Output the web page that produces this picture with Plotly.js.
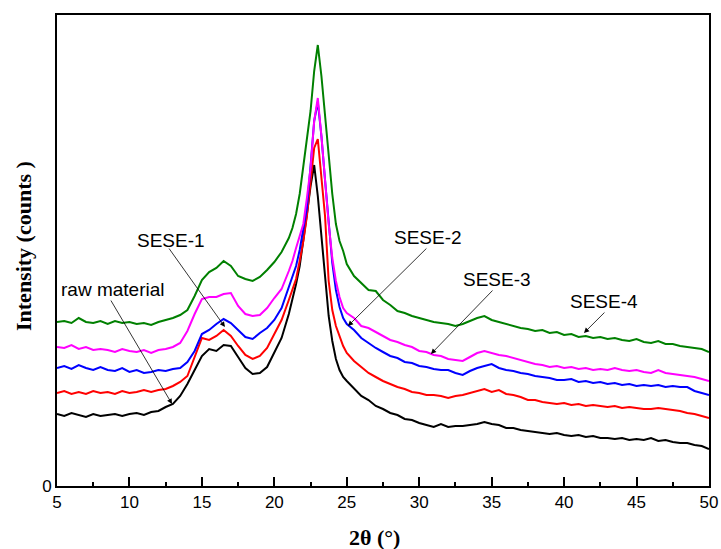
<!DOCTYPE html>
<html>
<head>
<meta charset="utf-8">
<script src="https://cdn.plot.ly/plotly-3.0.1.min.js"></script>
<style>html,body{margin:0;padding:0;background:#fff;}#chart{width:721px;height:549px;}</style>
</head>
<body>
<div id="chart"></div>
<script>
// 2θ (degrees)
const twoTheta = [5,5.5,6,6.5,7,7.5,8,8.5,9,9.5,10,10.5,11,11.5,12,12.5,13,13.5,14,14.5,15,15.5,16,16.5,17,17.5,18,18.5,19,19.5,20,20.5,21,
  21.25,21.5,21.75,22,22.25,22.5,22.75,23,23.25,23.5,23.75,24,24.25,24.5,24.75,25,
  25.5,26,26.5,27,27.5,28,28.5,29,29.5,30,30.5,31,31.5,32,32.5,33,33.5,34,34.5,35,35.5,36,36.5,37,37.5,38,38.5,39,39.5,40,40.5,41,41.5,42,42.5,43,43.5,44,44.5,45,45.5,46,46.5,47,47.5,48,48.5,49,49.5,50];

// Intensities (arbitrary counts, offset curves as plotted)
const rawMaterial = [72,70,73,71,69,72,70,71,72,70,72,73,71,74,75,79,82,90,102,116,130,137,135,141,140,129,118,112,113,119,133,148,172,
  186,202,220,244,272,300,321,290,250,205,170,145,127,116,109,105,
  97,90,86,80,77,73,71,67,66,63,61,59,62,59,60,60,61,62,64,62,61,58,58,56,55,54,53,52,53,51,50,51,49,50,48,48,47,48,46,47,46,48,45,46,44,43,43,41,40,37];

const sese1 = [93,95,92,94,92,95,93,94,92,95,93,94,96,94,96,97,100,104,110,130,148,146,150,156,150,140,131,127,130,138,152,166,186,
  197,207,225,245,270,305,338,347,310,270,205,176,160,149,140,133,
  125,119,113,109,105,102,99,97,94,93,91,91,90,88,90,91,93,95,97,94,96,92,91,89,86,86,84,83,82,83,81,82,80,81,80,79,80,78,79,78,77,77,78,77,76,75,73,72,70,68];

const sese2 = [118,120,117,121,118,116,119,116,115,118,114,116,113,114,116,115,117,118,124,135,152,156,162,167,163,156,149,147,153,158,166,178,198,
  208,220,236,255,278,320,365,384,350,306,262,223,196,179,168,162,
  156,148,143,138,134,130,128,124,123,120,119,117,116,116,113,111,115,118,120,122,118,116,115,113,112,110,109,108,106,106,107,104,105,103,104,102,103,101,102,100,101,100,101,99,100,99,99,95,93,91];

const sese3 = [139,138,141,137,139,136,137,136,134,137,135,134,136,133,136,137,139,143,155,172,187,189,189,192,193,180,172,170,171,178,188,197,215,
  225,238,250,262,288,318,365,388,350,305,262,228,205,189,178,173,
  168,160,158,154,150,146,144,141,139,135,134,131,130,127,126,125,129,133,135,133,131,130,128,126,124,122,121,119,120,118,119,117,118,116,117,116,118,116,115,116,114,113,116,113,112,111,110,109,107,105];

const sese4 = [164,165,163,168,164,163,165,162,165,163,164,162,163,161,164,166,168,171,176,190,206,214,218,225,220,210,207,205,209,216,224,234,248,
  258,272,292,318,345,375,415,441,410,370,325,292,262,245,235,222,
  210,203,196,195,186,181,175,173,170,168,166,164,163,162,160,162,165,168,170,166,164,162,160,158,157,155,156,153,154,151,152,149,150,148,149,147,148,146,145,147,144,143,145,142,142,140,139,138,137,134];

const seriesNames = ['raw material','SESE-1','SESE-2','SESE-3','SESE-4'];
const seriesData = [rawMaterial, sese1, sese2, sese3, sese4];
const seriesColors = ['#000000','#ff0000','#0000ff','#ff00ff','#008000'];

// Label annotations
const labelText = ['raw material','SESE-1','SESE-2','SESE-3','SESE-4'];
const labelPos = [[8.8,197],[12.9,246],[30.6,249],[35.35,207],[42.75,185]];
const arrowTail = [[8.66,187],[12.66,239],[30.6,239],[35.16,197],[42.89,175]];
const arrowHead = [[12.94,82],[16.59,159],[25.08,160],[30.81,132],[41.37,153]];

const traces = seriesData.map((ys, i) => ({
  x: twoTheta, y: ys, type: 'scatter', mode: 'lines', name: seriesNames[i],
  line: {color: seriesColors[i], width: 2, shape: 'linear'}, hoverinfo: 'skip'
}));

const annotations = [];
labelText.forEach((t, i) => {
  annotations.push({x: labelPos[i][0], y: labelPos[i][1], xref: 'x', yref: 'y', text: t, showarrow: false,
    xanchor: 'center', yanchor: 'middle', font: {family: 'Liberation Sans, Arial, sans-serif', size: 19, color: '#000'}});
  annotations.push({x: arrowHead[i][0], y: arrowHead[i][1], xref: 'x', yref: 'y',
    ax: arrowTail[i][0], ay: arrowTail[i][1], axref: 'x', ayref: 'y', text: '', showarrow: true,
    arrowhead: 2, arrowsize: 1.3, arrowwidth: 0.8, arrowcolor: '#000'});
});
// x axis title
annotations.push({x: (374 - 57) / 652, y: (486 - 537) / 471, xref: 'paper', yref: 'paper', text: '<b>2θ (°)</b>', showarrow: false,
  font: {family: 'Liberation Serif, Times New Roman, serif', size: 22, color: '#000'}, xanchor: 'center', yanchor: 'middle'});
// y axis title
annotations.push({x: (23 - 57) / 652, y: (486 - 246) / 471, xref: 'paper', yref: 'paper', text: '<b>Intensity (counts )</b>', showarrow: false,
  textangle: -90, font: {family: 'Liberation Serif, Times New Roman, serif', size: 22, color: '#000'}, xanchor: 'center', yanchor: 'middle'});

const layout = {
  width: 721, height: 549,
  margin: {l: 57, r: 12, t: 15, b: 63},
  paper_bgcolor: '#fff', plot_bgcolor: '#fff',
  showlegend: false,
  xaxis: {
    range: [5, 50], tick0: 5, dtick: 5, ticks: 'inside', ticklen: 9, tickwidth: 2, tickcolor: '#000',
    showline: true, linecolor: '#000', linewidth: 2, mirror: true, showgrid: false, zeroline: false,
    tickfont: {family: 'Liberation Sans, Arial, sans-serif', size: 17, color: '#000'},
    minor: {dtick: 2.5, tick0: 5, ticks: 'inside', ticklen: 4, tickwidth: 2, tickcolor: '#000', showgrid: false},
    title: {text: ''}
  },
  yaxis: {
    range: [0, 471], tickvals: [0], ticktext: ['0'], ticks: '',
    showline: true, linecolor: '#000', linewidth: 2, mirror: true, showgrid: false, zeroline: false,
    tickfont: {family: 'Liberation Sans, Arial, sans-serif', size: 17, color: '#000'},
    title: {text: ''}
  },
  annotations: annotations
};

Plotly.newPlot('chart', traces, layout, {staticPlot: true, displayModeBar: false});
</script>
</body>
</html>
